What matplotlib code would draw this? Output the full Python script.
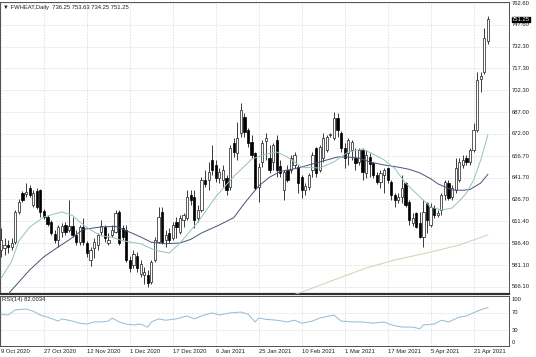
import matplotlib
matplotlib.use("Agg")
import matplotlib.pyplot as plt
import numpy as np

# ---------------- data ----------------
opens = [591.7, 593.1, 595.1, 593.8, 597.2, 618.0, 631.1, 630.4, 634.6, 622.8,
         632.5, 633.2, 618.7, 614.5, 611.1, 602.8, 598.6, 604.1, 609.0, 605.5,
         608.3, 602.1, 597.2, 607.6, 596.4, 584.8, 593.1, 595.1, 604.1, 607.6,
         596.4, 602.1, 604.1, 618.0, 606.9, 605.5, 584.8, 581.3, 587.5, 575.1,
         574.4, 574.4, 569.5, 584.8, 597.2, 618.0, 598.6, 603.4, 600.0, 611.1,
         604.1, 612.4, 613.8, 629.8, 628.4, 613.8, 619.3, 640.1, 640.1, 654.0,
         650.5, 641.5, 640.1, 641.5, 635.3, 665.7, 658.8, 672.6, 683.7, 674.7,
         666.4, 658.8, 635.3, 652.6, 667.1, 655.3, 652.6, 667.8, 649.8, 633.2,
         647.0, 647.0, 650.5, 649.1, 642.2, 633.2, 635.3, 647.0, 662.3, 647.0,
         655.3, 660.9, 671.3, 669.2, 683.0, 672.6, 662.3, 658.8, 660.9, 655.3,
         652.6, 660.9, 645.0, 656.0, 651.9, 643.6, 638.7, 643.6, 648.4, 638.7,
         629.8, 626.3, 628.4, 638.0, 624.9, 610.4, 617.3, 610.4, 600.7, 624.2,
         609.0, 620.7, 615.9, 619.3, 629.8, 638.0, 628.4, 633.2, 640.1, 650.5,
         655.3, 652.6, 660.9, 674.7, 710.0, 714.9, 736.25]
highs = [606.9, 600.0, 598.6, 600.0, 619.3, 627.0, 632.5, 638.0, 636.7, 633.2,
         634.6, 633.9, 620.0, 615.9, 612.4, 605.5, 609.0, 610.4, 611.1, 626.3,
         614.5, 605.5, 609.0, 613.8, 597.9, 593.8, 600.0, 603.4, 612.4, 609.0,
         603.4, 609.0, 619.3, 619.3, 609.0, 609.0, 587.5, 591.7, 590.3, 584.8,
         579.9, 577.8, 584.8, 600.7, 621.4, 621.4, 605.5, 606.9, 611.1, 614.5,
         615.9, 617.3, 633.2, 633.2, 633.2, 622.8, 642.2, 647.0, 652.6, 664.3,
         654.0, 648.4, 650.5, 643.6, 664.3, 669.2, 680.3, 693.4, 686.5, 676.1,
         671.3, 659.5, 651.9, 667.8, 672.6, 664.3, 665.7, 671.3, 654.0, 647.0,
         650.5, 657.4, 659.5, 650.5, 643.6, 638.0, 645.0, 659.5, 663.0, 664.3,
         672.6, 671.3, 672.6, 687.2, 686.5, 674.1, 665.7, 669.2, 667.8, 662.3,
         662.3, 662.3, 660.9, 658.8, 652.6, 645.7, 647.0, 648.4, 649.1, 640.1,
         631.1, 631.1, 643.6, 638.7, 626.3, 617.3, 618.0, 618.0, 626.3, 624.9,
         624.2, 622.8, 619.3, 631.1, 640.1, 640.1, 636.7, 655.3, 655.3, 657.4,
         657.4, 662.3, 679.6, 714.9, 714.9, 745.3, 753.63]
lows = [586.8, 588.2, 589.6, 591.7, 595.8, 616.6, 624.9, 628.4, 628.4, 621.4,
        620.0, 614.5, 613.1, 608.3, 602.1, 596.4, 593.8, 600.7, 602.1, 604.1,
        600.7, 595.1, 595.1, 595.1, 586.8, 580.6, 586.1, 591.7, 602.1, 597.2,
        595.1, 600.7, 603.4, 595.1, 598.6, 583.4, 576.5, 579.2, 576.5, 573.0,
        568.2, 566.1, 568.2, 583.4, 596.4, 595.8, 593.8, 596.4, 598.6, 600.0,
        602.8, 607.6, 612.4, 622.8, 606.9, 611.1, 618.0, 635.3, 633.2, 643.6,
        638.7, 638.0, 635.3, 629.8, 633.2, 656.0, 654.0, 669.9, 669.9, 663.0,
        655.3, 633.2, 624.9, 649.1, 654.0, 645.0, 647.0, 642.2, 642.2, 626.3,
        638.7, 645.0, 648.4, 631.1, 627.7, 629.8, 633.2, 642.2, 642.2, 645.7,
        652.6, 659.5, 669.9, 667.8, 669.9, 659.5, 648.4, 650.5, 654.0, 647.0,
        650.5, 640.1, 641.5, 642.2, 641.5, 637.4, 634.6, 631.1, 638.0, 626.3,
        621.4, 624.2, 624.2, 621.4, 609.0, 608.3, 606.9, 600.0, 593.8, 603.4,
        607.6, 613.8, 614.5, 615.9, 626.3, 626.3, 626.3, 631.1, 638.7, 648.4,
        650.5, 650.5, 659.5, 673.3, 701.0, 713.5, 734.25]
closes = [598.6, 595.1, 593.8, 596.4, 618.0, 624.9, 626.3, 631.8, 629.8, 631.1,
          621.4, 618.0, 614.5, 609.7, 603.4, 598.6, 607.6, 608.3, 604.1, 608.3,
          602.1, 597.2, 607.6, 597.2, 589.6, 591.7, 597.2, 602.1, 608.3, 600.0,
          598.6, 605.5, 617.3, 596.4, 600.7, 584.8, 579.2, 588.9, 579.2, 582.0,
          576.5, 568.8, 583.4, 598.6, 614.5, 597.2, 602.1, 598.6, 609.0, 607.6,
          613.8, 615.9, 628.4, 626.3, 612.4, 619.3, 640.1, 637.4, 645.7, 647.0,
          641.5, 645.7, 647.0, 633.2, 662.3, 659.5, 669.2, 688.6, 673.3, 665.7,
          657.4, 634.6, 649.1, 665.7, 669.2, 647.0, 664.3, 647.0, 645.0, 645.7,
          640.1, 655.3, 657.4, 638.0, 633.2, 636.0, 643.6, 657.4, 645.0, 663.0,
          669.2, 669.9, 672.0, 683.0, 674.7, 662.3, 655.3, 667.8, 666.4, 651.9,
          660.9, 645.7, 657.4, 651.2, 643.6, 638.7, 645.0, 647.0, 640.1, 629.8,
          626.3, 628.4, 634.6, 622.8, 612.4, 613.8, 607.6, 600.7, 618.0, 612.4,
          621.4, 615.9, 617.3, 629.8, 638.7, 627.7, 634.6, 648.4, 652.6, 654.0,
          652.6, 660.9, 674.7, 709.3, 712.1, 738.4, 751.25]

# moving averages (bar index, price)
ma_fast_bar = [0, 3, 5, 8, 12, 17, 20, 22, 25, 28, 31, 34, 39, 43, 47, 50, 55, 60,
               65, 70, 74, 77, 80, 84, 89, 93, 97, 101, 104, 107, 110, 113, 117,
               120, 123, 126, 128, 130, 132, 134, 136]
ma_fast_val = [572.0, 584.0, 598.0, 607.5, 614.5, 618.0, 615.5, 611.0, 605.5,
               601.5, 600.5, 598.0, 596.0, 591.5, 589.5, 596.5, 611.0, 628.5,
               642.5, 654.5, 658.0, 659.5, 656.0, 649.0, 648.4, 652.6, 659.5,
               661.5, 658.0, 654.0, 648.0, 638.0, 628.4, 621.5, 619.3, 620.7,
               625.5, 631.0, 640.0, 654.0, 671.3]
ma_slow_bar = [0, 3, 8, 12, 16, 19, 23, 28, 32, 35, 39, 42, 46, 50, 53, 56, 61,
               65, 68, 72, 75, 78, 83, 86, 89, 94, 97, 100, 103, 107, 111, 114,
               117, 120, 122, 126, 129, 131, 134, 136]
ma_slow_val = [555.0, 564.0, 577.8, 587.0, 593.8, 598.6, 606.0, 607.6, 608.0,
               605.0, 600.7, 597.0, 596.0, 596.5, 599.0, 603.4, 609.0, 614.0,
               624.0, 636.0, 642.0, 646.0, 648.4, 650.5, 652.6, 656.0, 656.0,
               655.3, 652.6, 650.5, 649.0, 647.5, 645.0, 641.0, 637.5, 633.2,
               633.0, 633.5, 638.0, 644.0]
ma_long_bar = [75, 84, 92, 102, 110, 119, 128, 136]
ma_long_val = [555.0, 562.5, 570.0, 579.2, 584.8, 589.6, 595.1, 602.1]

rsi_bar = [0, 2, 4, 7, 9, 11, 13, 16, 17, 20, 22, 24, 26, 28, 30, 31, 33, 35,
           37, 39, 41, 42, 44, 46, 49, 52, 54, 56, 59, 61, 64, 67, 69, 71, 72,
           74, 77, 80, 82, 84, 87, 89, 93, 95, 98, 101, 104, 107, 109, 112, 115,
           117, 118, 121, 123, 125, 128, 130, 133, 135, 136]
rsi_val = [67, 65, 77, 79, 74, 65, 60, 51, 56, 51, 46, 44, 49, 49, 51, 58, 49,
           44, 42, 44, 37, 49, 56, 53, 56, 63, 56, 63, 70, 65, 70, 72, 67, 49,
           58, 55, 53, 49, 53, 46, 51, 58, 65, 51, 49, 49, 46, 49, 42, 37, 37,
           33, 42, 44, 53, 49, 60, 63, 74, 80, 82.0034]

price_ticks = [762.60, 747.60, 732.30, 717.30, 702.30, 687.00, 672.00, 656.70,
               641.70, 626.70, 611.40, 596.40, 581.10, 566.10]
rsi_ticks = [100, 70, 30, 0]
date_bars = [0, 12, 24, 36, 48, 60, 72, 84, 96, 108, 120, 132]
date_labels = ["9 Oct 2020", "27 Oct 2020", "12 Nov 2020", "1 Dec 2020",
               "17 Dec 2020", "6 Jan 2021", "25 Jan 2021", "10 Feb 2021",
               "1 Mar 2021", "17 Mar 2021", "5 Apr 2021", "21 Apr 2021"]
symbol = "FWHEAT,Daily"
last_price = 751.25

# ---------------- drawing ----------------
plt.rcParams['font.family'] = ['Liberation Sans', 'DejaVu Sans']
FS = 4.2
W, H = 536, 357
fig = plt.figure(figsize=(W / 100, H / 100), dpi=100)
fig.patch.set_facecolor("white")

def fx(px):
    return px / W

def fy(py):
    return 1 - py / H

ax = fig.add_axes([0, fy(294), fx(509), fy(2) - fy(294)])
ax2 = fig.add_axes([0, fy(346), fx(509), fy(296) - fy(346)])

XL = (-0.28, 141.9)
grid_kw = dict(color="#d4d4d4", lw=0.5, ls=(0, (2, 2)), zorder=0)

# main panel
ax.set_xlim(*XL)
ax.set_ylim(561.2, 763.3)
for p in price_ticks:
    ax.axhline(p, **grid_kw)
for b in date_bars:
    ax.axvline(b, **grid_kw)

n = len(closes)
xs = np.arange(n)
o = np.array(opens); c = np.array(closes)
h = np.array(highs); l = np.array(lows)
ax.vlines(xs, l, h, color="#1a1a1a", lw=0.6, zorder=2)
up = c >= o
bot = np.minimum(o, c)
hgt = np.abs(c - o)
ax.bar(xs[up], hgt[up], bottom=bot[up], width=0.62, color="white",
       edgecolor="#1a1a1a", lw=0.5, zorder=3)
ax.bar(xs[~up], hgt[~up], bottom=bot[~up], width=0.62, color="black",
       edgecolor="black", lw=0.5, zorder=3)

ax.plot(ma_long_bar, ma_long_val, color="#dccbb0", lw=0.7, zorder=4)
ax.plot(ma_slow_bar, ma_slow_val, color="#47527a", lw=0.7, zorder=4)
ax.plot(ma_fast_bar, ma_fast_val, color="#93c3b8", lw=0.7, zorder=4)

ax.set_xticks([]); ax.set_yticks([])
for s in ax.spines.values():
    s.set_color("#505050"); s.set_linewidth(0.7)
ax.spines["bottom"].set_linewidth(1.6)
ax.spines["bottom"].set_color("#303030")

ax.text(0.006, 0.99, "\u25bc " + symbol + "  " + "%.2f %.2f %.2f %.2f" % (opens[-1], highs[-1], lows[-1], closes[-1]),
        transform=ax.transAxes, fontsize=FS, va="top", ha="left", color="#202020")

# price axis labels
for p in price_ticks:
    ypx_ax = ax.transData.transform((0, p))[1]
    fig.text(fx(512), ypx_ax / fig.dpi / fig.get_figheight(), "%.2f" % p,
             fontsize=FS, va="center", ha="left", color="#202020")
yl = ax.transData.transform((0, last_price))[1] / fig.dpi / fig.get_figheight()
fig.text(fx(512), yl, "%.2f" % last_price, fontsize=FS, va="center", ha="left",
         color="white", bbox=dict(boxstyle="square,pad=0.05", fc="black", ec="black"))

# RSI panel
ax2.set_xlim(*XL)
ax2.set_ylim(-7, 109.3)
for b in date_bars:
    ax2.axvline(b, **grid_kw)
for r in [70, 30]:
    ax2.axhline(r, **grid_kw)
ax2.plot(rsi_bar, rsi_val, color="#93bbd2", lw=0.7, zorder=3)
ax2.set_xticks([]); ax2.set_yticks([])
for s in ax2.spines.values():
    s.set_color("#505050"); s.set_linewidth(0.7)
ax2.text(0.004, 0.97, "RSI(14) %.4f" % rsi_val[-1], transform=ax2.transAxes,
         fontsize=FS, va="top", ha="left", color="#202020")
for r in rsi_ticks:
    ypx = ax2.transData.transform((0, r))[1] / fig.dpi / fig.get_figheight()
    fig.text(fx(512), ypx, str(r), fontsize=FS, va="center", ha="left", color="#202020")

# date labels
for b, lab in zip(date_bars, date_labels):
    xpx = ax2.transData.transform((b, 0))[0] / fig.dpi / fig.get_figwidth()
    fig.text(xpx, fy(351.5), lab, fontsize=FS, va="center", ha="left", color="#202020")

fig.savefig("out.png", dpi=100)
